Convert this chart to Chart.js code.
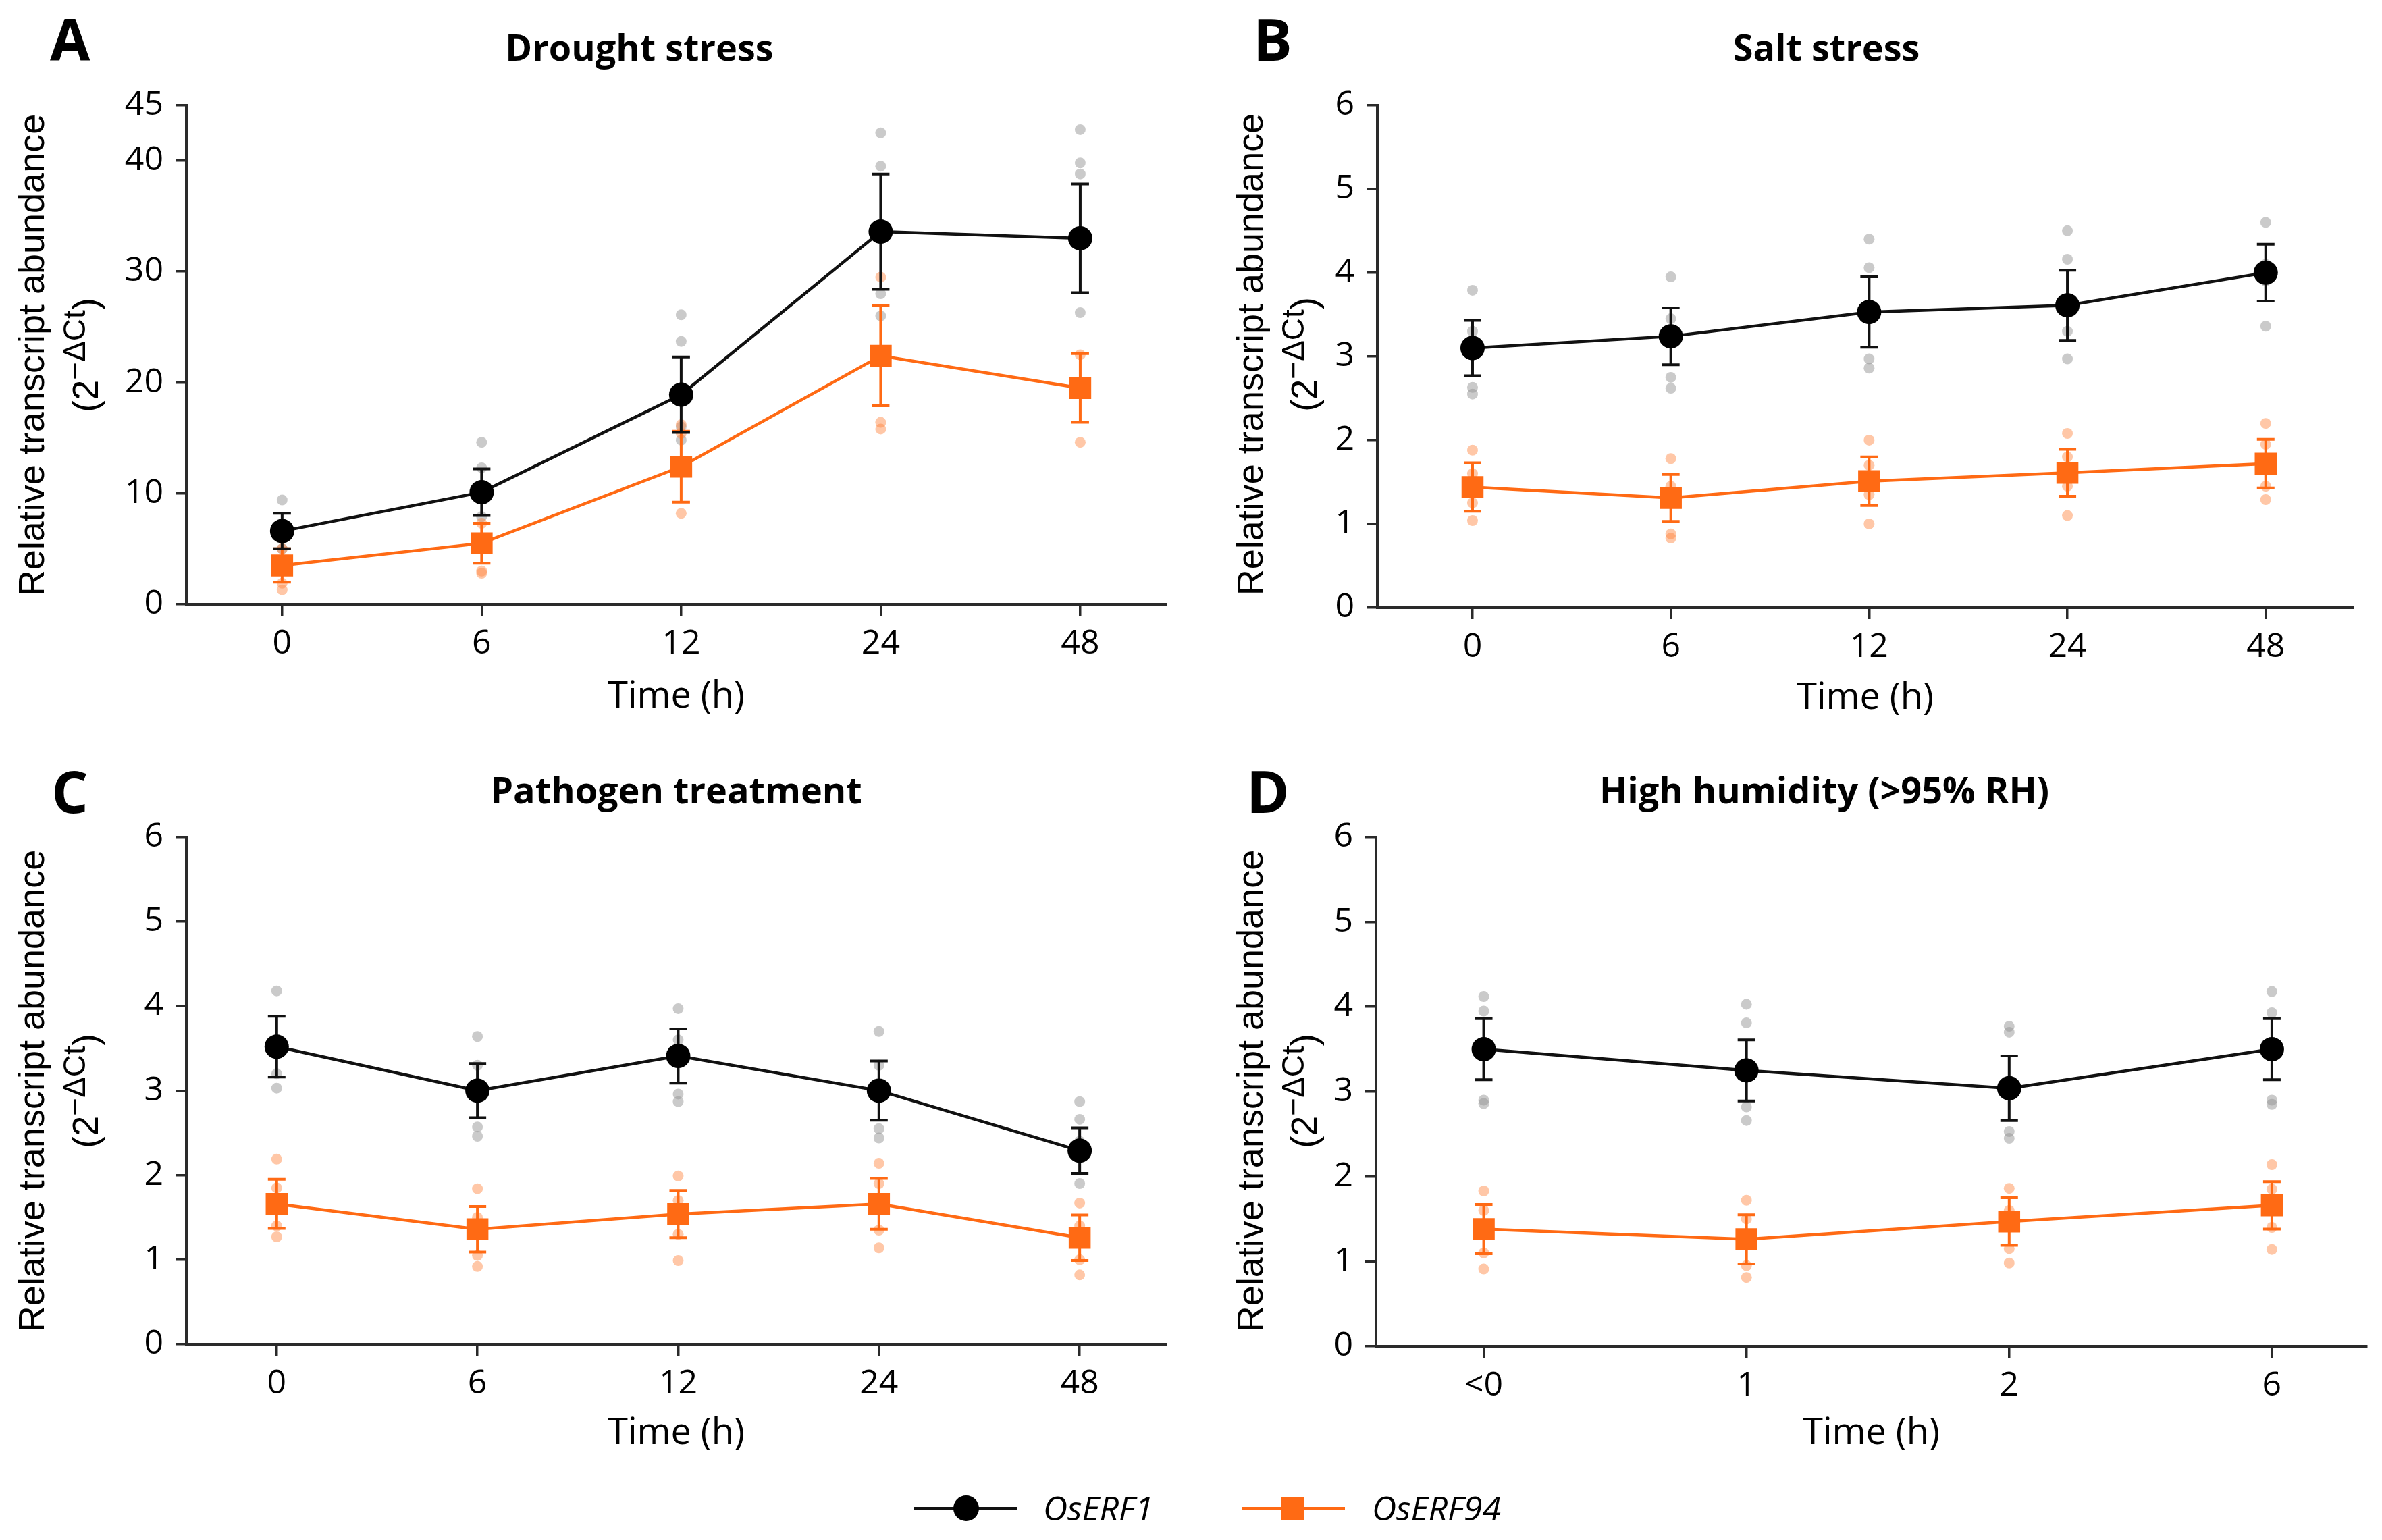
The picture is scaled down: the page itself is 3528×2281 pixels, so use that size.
<!DOCTYPE html>
<html>
<head>
<meta charset="utf-8">
<title>OsERF1 / OsERF94 transcript abundance</title>
<script src="https://cdn.jsdelivr.net/npm/chart.js@4.4.1/dist/chart.umd.min.js"></script>
<style>
  html, body { margin: 0; padding: 0; background: #fff; }
  #fig { position: relative; width: 3528px; height: 2281px; overflow: hidden; background: #fff; }
  canvas { position: absolute; }
  .letter { position: absolute; font-family: "Open Sans"; font-weight: 700; font-size: 86px; line-height: 1; color: #000; }
  .ylab { position: absolute; width: 1000px; height: 60px; line-height: 60px; text-align: center; white-space: nowrap;
          font-family: "Liberation Sans"; font-size: 54px; color: #000; transform: rotate(-90deg); transform-origin: 50% 50%; }
  .ylab sup { font-size: 0.85em; vertical-align: 0.42em; line-height: 0; }
  .legline { position: absolute; height: 5px; }
  .legtxt { position: absolute; font-family: "Open Sans"; font-style: italic; font-weight: 500; font-size: 50px; line-height: 60px; color: #000; }
</style>
</head>
<body>
<div id="fig">
  <canvas id="chartA" width="1764" height="1100" style="left:0;top:0"></canvas>
  <canvas id="chartB" width="1764" height="1100" style="left:1764px;top:0"></canvas>
  <canvas id="chartC" width="1764" height="1100" style="left:0;top:1100px"></canvas>
  <canvas id="chartD" width="1764" height="1100" style="left:1764px;top:1100px"></canvas>

  <div class="letter" style="left:74px;top:14px">A</div>
  <div class="letter" style="left:1856px;top:14px">B</div>
  <div class="letter" style="left:76px;top:1128px">C</div>
  <div class="letter" style="left:1846px;top:1128px">D</div>

  <div class="ylab" style="left:-454px;top:496px">Relative transcript abundance</div>
  <div class="ylab" style="left:-374px;top:496px">(2<sup>−ΔCt</sup>)</div>
  <div class="ylab" style="left:1351px;top:495px">Relative transcript abundance</div>
  <div class="ylab" style="left:1431px;top:495px">(2<sup>−ΔCt</sup>)</div>
  <div class="ylab" style="left:-454px;top:1586px">Relative transcript abundance</div>
  <div class="ylab" style="left:-374px;top:1586px">(2<sup>−ΔCt</sup>)</div>
  <div class="ylab" style="left:1351px;top:1586px">Relative transcript abundance</div>
  <div class="ylab" style="left:1431px;top:1586px">(2<sup>−ΔCt</sup>)</div>

  <div class="legline" style="left:1354px;top:2232px;width:153px;background:#111"></div>
  <div style="position:absolute;left:1412px;top:2215px;width:38px;height:38px;border-radius:50%;background:#000"></div>
  <div class="legtxt" style="left:1545px;top:2203px">OsERF1</div>
  <div class="legline" style="left:1839px;top:2232px;width:153px;background:#ff6a14"></div>
  <div style="position:absolute;left:1898px;top:2217px;width:34px;height:34px;background:#ff6a14"></div>
  <div class="legtxt" style="left:2032px;top:2203px">OsERF94</div>
</div>

<script>
// time points (categories)
const timesStress = ['0', '6', '12', '24', '48'];
const timesHumidity = ['<0', '1', '2', '6'];
const yTicksDrought = [0, 10, 20, 30, 40, 45];
const yTicksSmall = [0, 1, 2, 3, 4, 5, 6];

// A - drought stress
const droughtErf1 = [6.6, 10.1, 18.9, 33.6, 33.0];
const droughtErf1Sem = [1.6, 2.1, 3.4, 5.2, 4.9];
const droughtErf1Reps = [[9.4, 7.2, 5.0], [14.6, 12.3, 7.9], [26.1, 23.7, 16.0, 14.8], [42.5, 39.5, 28.0, 26.0], [42.8, 39.8, 38.8, 26.3]];
const droughtErf94 = [3.5, 5.5, 12.4, 22.4, 19.5];
const droughtErf94Sem = [1.5, 1.8, 3.2, 4.5, 3.1];
const droughtErf94Reps = [[5.0, 1.9, 1.3], [7.3, 3.0, 2.8], [16.2, 15.4, 8.2], [29.5, 16.4, 15.8], [22.5, 14.6]];

// B - salt stress
const saltErf1 = [3.1, 3.24, 3.53, 3.61, 4.0];
const saltErf1Sem = [0.33, 0.34, 0.42, 0.42, 0.34];
const saltErf1Reps = [[3.79, 3.3, 2.63, 2.55], [3.95, 3.45, 2.75, 2.62], [4.4, 4.06, 2.97, 2.86], [4.5, 4.16, 3.3, 2.97], [4.6, 4.1, 3.9, 3.36]];
const saltErf94 = [1.44, 1.31, 1.51, 1.61, 1.72];
const saltErf94Sem = [0.29, 0.28, 0.29, 0.28, 0.29];
const saltErf94Reps = [[1.88, 1.6, 1.25, 1.04], [1.78, 1.45, 0.88, 0.83], [2.0, 1.7, 1.35, 1.0], [2.08, 1.8, 1.45, 1.1], [2.2, 1.95, 1.45, 1.29]];

// C - pathogen treatment
const pathErf1 = [3.52, 3.0, 3.41, 3.0, 2.29];
const pathErf1Sem = [0.36, 0.32, 0.32, 0.35, 0.27];
const pathErf1Reps = [[4.18, 3.6, 3.2, 3.03], [3.64, 3.3, 2.57, 2.46], [3.97, 3.6, 2.96, 2.87], [3.7, 3.3, 2.55, 2.44], [2.87, 2.66, 2.4, 1.9]];
const pathErf94 = [1.66, 1.36, 1.54, 1.66, 1.26];
const pathErf94Sem = [0.29, 0.27, 0.28, 0.3, 0.27];
const pathErf94Reps = [[2.19, 1.85, 1.4, 1.27], [1.84, 1.5, 1.05, 0.92], [1.99, 1.7, 1.3, 0.99], [2.14, 1.9, 1.35, 1.14], [1.67, 1.4, 1.0, 0.82]];

// D - high humidity
const humidErf1 = [3.5, 3.25, 3.04, 3.5];
const humidErf1Sem = [0.36, 0.36, 0.38, 0.36];
const humidErf1Reps = [[4.12, 3.95, 2.9, 2.86], [4.03, 3.81, 2.82, 2.66], [3.77, 3.7, 2.53, 2.45], [4.18, 3.93, 2.9, 2.85]];
const humidErf94 = [1.38, 1.26, 1.47, 1.66];
const humidErf94Sem = [0.29, 0.29, 0.28, 0.28];
const humidErf94Reps = [[1.83, 1.6, 1.1, 0.91], [1.72, 1.5, 0.95, 0.81], [1.86, 1.6, 1.15, 0.98], [2.14, 1.85, 1.4, 1.14]];

const BLACK = '#111111';
const ORANGE = '#ff6a14';
const AXIS = '#2a2a2a';

// error bars drawn just before their own dataset, so markers sit on top
const errorBars = {
  id: 'errorBars',
  beforeDatasetDraw(chart, args) {
    const ds = chart.data.datasets[args.index];
    if (!ds.sem) return;
    const ctx = chart.ctx, x = chart.scales.x, y = chart.scales.y;
    const cap = 13;
    ctx.save();
    ctx.strokeStyle = ds.borderColor;
    ctx.lineWidth = 4;
    ds.data.forEach((p, i) => {
      const px = x.getPixelForValue(p.x);
      const top = y.getPixelForValue(p.y + ds.sem[i]);
      const bot = y.getPixelForValue(p.y - ds.sem[i]);
      ctx.beginPath();
      ctx.moveTo(px, top); ctx.lineTo(px, bot);
      ctx.moveTo(px - cap, top); ctx.lineTo(px + cap, top);
      ctx.moveTo(px - cap, bot); ctx.lineTo(px + cap, bot);
      ctx.stroke();
    });
    ctx.restore();
  }
};

function meanPoints(vals) {
  return vals.map((v, i) => ({x: i, y: v}));
}
function repPoints(reps) {
  let pts = [];
  reps.forEach((list, i) => list.forEach(v => pts.push({x: i, y: v})));
  return pts;
}

function makePanel(id, p) {
  const tickFont = {family: 'Open Sans', size: 50};
  new Chart(document.getElementById(id), {
    type: 'scatter',
    data: {
      datasets: [
        {label: 'OsERF1 replicates', data: repPoints(p.reps1), pointRadius: 8, pointBorderWidth: 0,
         pointBackgroundColor: 'rgba(150,150,150,0.5)', order: 4},
        {label: 'OsERF94 replicates', data: repPoints(p.reps94), pointRadius: 8, pointBorderWidth: 0,
         pointBackgroundColor: 'rgba(255,130,60,0.45)', order: 3},
        {label: 'OsERF94', data: meanPoints(p.erf94), sem: p.sem94, showLine: true,
         borderColor: ORANGE, backgroundColor: ORANGE, borderWidth: 4.5,
         pointStyle: 'rect', pointRadius: 23, pointBorderWidth: 0, pointBackgroundColor: ORANGE, order: 2},
        {label: 'OsERF1', data: meanPoints(p.erf1), sem: p.sem1, showLine: true,
         borderColor: BLACK, backgroundColor: BLACK, borderWidth: 4.5,
         pointStyle: 'circle', pointRadius: 18, pointBorderWidth: 0, pointBackgroundColor: '#000', order: 1}
      ]
    },
    options: {
      responsive: false,
      animation: false,
      devicePixelRatio: 1,
      layout: {padding: {left: p.padLeft, right: p.padRight, top: 0, bottom: 0}},
      plugins: {
        legend: {display: false},
        tooltip: {enabled: false},
        title: {
          display: true, text: p.title, color: '#000', fullSize: p.titleFull,
          font: {family: 'Open Sans', weight: '700', size: 54, lineHeight: 1.2},
          padding: {top: 42, bottom: p.titleGap}
        }
      },
      scales: {
        x: {
          type: 'linear', min: p.xMin, max: p.xMax,
          afterBuildTicks: s => { s.ticks = p.times.map((t, i) => ({value: i})); },
          afterFit: s => { s.height = p.xHeight; },
          ticks: {callback: v => p.times[v], font: tickFont, color: '#000', padding: 12, maxRotation: 0, autoSkip: false},
          grid: {drawOnChartArea: false, drawTicks: true, tickLength: 17, color: AXIS, lineWidth: 3.5},
          border: {display: true, color: AXIS, width: 4},
          title: {display: true, text: 'Time (h)', color: '#000',
                  font: {family: 'Open Sans', size: 54, lineHeight: 1.2}, padding: {top: 0, bottom: p.xTitleGap}}
        },
        y: {
          min: 0, max: p.yMax,
          afterBuildTicks: s => { s.ticks = p.yTicks.map(v => ({value: v})); },
          afterFit: s => { s.width = p.yWidth; },
          ticks: {font: tickFont, color: '#000', padding: 18},
          grid: {drawOnChartArea: false, drawTicks: true, tickLength: 16, color: AXIS, lineWidth: 3.5},
          border: {display: true, color: AXIS, width: 4}
        }
      }
    },
    plugins: [errorBars]
  });
}

makePanel('chartA', {
  title: 'Drought stress', times: timesStress, yTicks: yTicksDrought, yMax: 45,
  erf1: droughtErf1, sem1: droughtErf1Sem, reps1: droughtErf1Reps,
  erf94: droughtErf94, sem94: droughtErf94Sem, reps94: droughtErf94Reps,
  xMin: -0.48, xMax: 4.43, padLeft: 167, yWidth: 109, padRight: 37, titleFull: true,
  titleGap: 49, xHeight: 205, xTitleGap: 35
});
makePanel('chartB', {
  title: 'Salt stress', times: timesStress, yTicks: yTicksSmall, yMax: 6,
  erf1: saltErf1, sem1: saltErf1Sem, reps1: saltErf1Reps,
  erf94: saltErf94, sem94: saltErf94Sem, reps94: saltErf94Reps,
  xMin: -0.48, xMax: 4.44, padLeft: 161, yWidth: 115, padRight: 43, titleFull: true,
  titleGap: 49, xHeight: 200, xTitleGap: 33
});
makePanel('chartC', {
  title: 'Pathogen treatment', times: timesStress, yTicks: yTicksSmall, yMax: 6,
  erf1: pathErf1, sem1: pathErf1Sem, reps1: pathErf1Reps,
  erf94: pathErf94, sem94: pathErf94Sem, reps94: pathErf94Reps,
  xMin: -0.45, xMax: 4.43, padLeft: 166, yWidth: 110, padRight: 37, titleFull: false,
  titleGap: 33, xHeight: 209, xTitleGap: 44
});
makePanel('chartD', {
  title: 'High humidity (>95% RH)', times: timesHumidity, yTicks: yTicksSmall, yMax: 6,
  erf1: humidErf1, sem1: humidErf1Sem, reps1: humidErf1Reps,
  erf94: humidErf94, sem94: humidErf94Sem, reps94: humidErf94Reps,
  xMin: -0.41, xMax: 3.36, padLeft: 127, yWidth: 147, padRight: 15, titleFull: true,
  titleGap: 33, xHeight: 206, xTitleGap: 44
});
</script>
</body>
</html>
